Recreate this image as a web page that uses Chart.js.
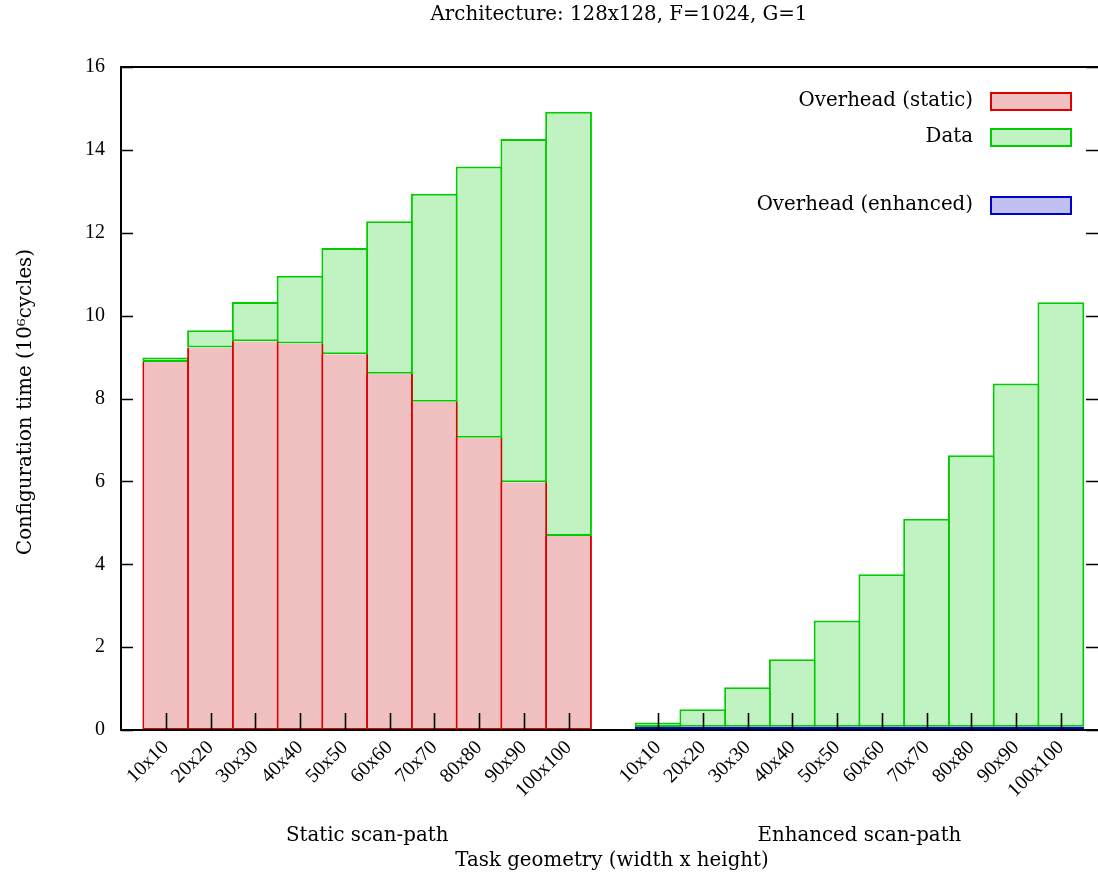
<!DOCTYPE html>
<html>
<head>
<meta charset="utf-8">
<script src="https://cdn.jsdelivr.net/npm/chart.js@4/dist/chart.umd.min.js"></script>
<style>
  html, body { margin: 0; padding: 0; background: #fff; }
  canvas { display: block; }
</style>
</head>
<body>
<canvas id="myChart" width="1098" height="875"></canvas>
<script>
const geometries = ["10x10", "20x20", "30x30", "40x40", "50x50", "60x60", "70x70", "80x80", "90x90", "100x100"];
const staticOverhead = [8.88, 9.23, 9.38, 9.33, 9.07, 8.60, 7.92, 7.05, 5.98, 4.68];
const dataTime = [0.11, 0.42, 0.95, 1.63, 2.56, 3.68, 5.02, 6.55, 8.28, 10.24];
const enhancedOverhead = [0.07, 0.08, 0.08, 0.08, 0.08, 0.08, 0.08, 0.08, 0.08, 0.08];
const yTicks = [0, 2, 4, 6, 8, 10, 12, 14, 16];
const groupNames = ["Static scan-path", "Enhanced scan-path"];
const legendNames = ["Overhead (static)", "Data", "Overhead (enhanced)"];
const chartTitle = "Architecture: 128x128, F=1024, G=1";
const xTitle = "Task geometry (width x height)";
const yTitle = "Configuration time (10\u2076cycles)";

const TICK_FONT = "'Liberation Serif', serif";
const TEXT_FONT = "'DejaVu Serif', serif";
const enhancedStart = geometries.length + 1; // one empty slot between the groups

const red = { border: "#dd0000", fill: "#f1c1c1" };
const green = { border: "#00cc00", fill: "#c1f2c1" };
const blue = { border: "#0000cc", fill: "#c0c0f0" };

function points(values, offset) {
    return values.map((v, i) => ({ x: i + offset, y: v }));
}

const tickValues = [];
geometries.forEach((g, i) => tickValues.push(i));
geometries.forEach((g, i) => tickValues.push(i + enhancedStart));

function labelFor(value) {
    if (value < geometries.length) return geometries[value];
    return geometries[value - enhancedStart];
}

const barStyle = {
    borderWidth: 2,
    categoryPercentage: 1,
    barPercentage: 1.045
};

const datasets = [
    Object.assign({ label: legendNames[0], data: points(staticOverhead, 0),
        backgroundColor: red.fill, borderColor: red.border, borderSkipped: "top" }, barStyle),
    Object.assign({ label: legendNames[1], data: points(dataTime, 0),
        backgroundColor: green.fill, borderColor: green.border, borderSkipped: false }, barStyle),
    Object.assign({ label: legendNames[2], data: points(enhancedOverhead, enhancedStart),
        backgroundColor: blue.fill, borderColor: blue.border, borderSkipped: false }, barStyle),
    Object.assign({ label: "Data (enhanced)", data: points(dataTime, enhancedStart),
        backgroundColor: green.fill, borderColor: green.border, borderSkipped: false }, barStyle)
];

// gnuplot-like frame, inward ticks and all the free texts
const decorations = {
    id: "decorations",
    afterDraw(chart) {
        const ctx = chart.ctx;
        const area = chart.chartArea;
        const xs = chart.scales.x;
        const ys = chart.scales.y;

        ctx.save();
        ctx.strokeStyle = "#000";
        ctx.lineWidth = 2;
        ctx.beginPath();
        ctx.moveTo(area.right, area.top);
        ctx.lineTo(area.left, area.top);
        ctx.lineTo(area.left, area.bottom);
        ctx.lineTo(area.right, area.bottom);
        ctx.stroke();

        ctx.lineWidth = 1.6;
        ctx.beginPath();
        yTicks.forEach(v => {
            const y = Math.round(ys.getPixelForValue(v)) + 0.5;
            ctx.moveTo(area.left, y);
            ctx.lineTo(area.left + 12, y);
            ctx.moveTo(area.right, y);
            ctx.lineTo(area.right - 12, y);
        });
        tickValues.forEach(v => {
            const x = Math.round(xs.getPixelForValue(v)) + 0.5;
            ctx.moveTo(x, area.bottom);
            ctx.lineTo(x, area.bottom - 17);
        });
        ctx.stroke();

        ctx.fillStyle = "#000";
        ctx.font = "19.8px " + TEXT_FONT;
        ctx.textAlign = "center";
        ctx.textBaseline = "middle";
        ctx.fillText(chartTitle, 619, 15);

        const mid0 = (xs.getPixelForValue(0) + xs.getPixelForValue(geometries.length - 1)) / 2;
        const mid1 = (xs.getPixelForValue(enhancedStart) + xs.getPixelForValue(enhancedStart + geometries.length - 1)) / 2;
        ctx.fillText(groupNames[0], mid0, 836);
        ctx.fillText(groupNames[1], mid1, 836);
        ctx.fillText(xTitle, 612, 861);

        ctx.save();
        ctx.translate(26, 402);
        ctx.rotate(-Math.PI / 2);
        ctx.fillText(yTitle, 0, 0);
        ctx.restore();

        // legend
        const entries = [
            { text: legendNames[0], style: red, y: 101 },
            { text: legendNames[1], style: green, y: 137 },
            { text: legendNames[2], style: blue, y: 205 }
        ];
        ctx.textAlign = "right";
        entries.forEach(e => {
            ctx.fillStyle = "#000";
            ctx.fillText(e.text, 973, e.y);
            ctx.fillStyle = e.style.fill;
            ctx.fillRect(991, e.y - 8, 80, 17);
            ctx.strokeStyle = e.style.border;
            ctx.lineWidth = 2;
            ctx.strokeRect(991, e.y - 8, 80, 17);
        });
        ctx.restore();
    }
};

const ctx = document.getElementById("myChart").getContext("2d");
const chart = new Chart(ctx, {
    type: "bar",
    data: { datasets: datasets },
    options: {
        responsive: false,
        devicePixelRatio: 1,
        animation: false,
        layout: { padding: { top: 67, right: 0, bottom: 0, left: 0 } },
        plugins: {
            legend: { display: false },
            tooltip: { enabled: false }
        },
        scales: {
            x: {
                type: "linear",
                offset: false,
                stacked: true,
                min: -1,
                max: 20.83,
                grid: { display: false, drawTicks: false },
                border: { display: false },
                afterBuildTicks: scale => {
                    scale.ticks = tickValues.map(v => ({ value: v }));
                },
                afterFit: scale => { scale.height = 145; },
                ticks: {
                    autoSkip: false,
                    minRotation: 45,
                    maxRotation: 45,
                    padding: 6,
                    color: "#000",
                    font: { family: TICK_FONT, size: 20 },
                    callback: value => labelFor(value)
                }
            },
            y: {
                stacked: true,
                min: 0,
                max: 16,
                grid: { display: false, drawTicks: false },
                border: { display: false },
                afterFit: scale => { scale.width = 121; },
                ticks: {
                    stepSize: 2,
                    padding: 16,
                    color: "#000",
                    font: { family: TICK_FONT, size: 20 }
                }
            }
        }
    },
    plugins: [decorations]
});
</script>
</body>
</html>
